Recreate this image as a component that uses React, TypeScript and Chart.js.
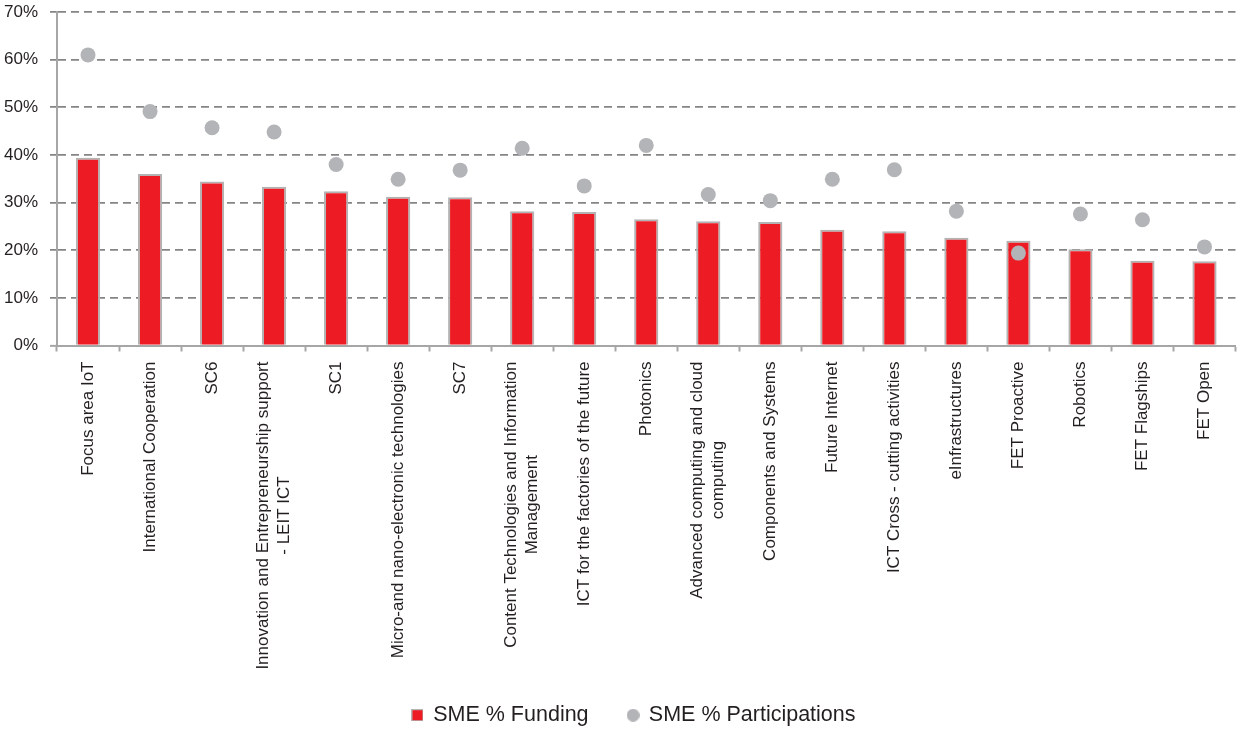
import React, { useEffect, useRef } from 'react';
import { Chart, registerables } from 'chart.js';

Chart.register(...registerables);

const categories: string[][] = [
  ['Focus area IoT'],
  ['International Cooperation'],
  ['SC6'],
  ['Innovation and Entrepreneurship support', '- LEIT ICT'],
  ['SC1'],
  ['Micro-and nano-electronic technologies'],
  ['SC7'],
  ['Content Technologies and Information', 'Management'],
  ['ICT for the factories of the future'],
  ['Photonics'],
  ['Advanced computing and cloud', 'computing'],
  ['Components and Systems'],
  ['Future Internet'],
  ['ICT Cross - cutting activities'],
  ['eInfrastructures'],
  ['FET Proactive'],
  ['Robotics'],
  ['FET Flagships'],
  ['FET Open'],
];

const smeFunding = [39.4, 36.0, 34.4, 33.3, 32.4, 31.2, 31.1, 28.2, 28.0, 26.5, 26.1, 25.9, 24.3, 24.0, 22.6, 22.0, 20.2, 17.8, 17.7];
const smeParticipations = [61.0, 49.1, 45.7, 44.8, 38.0, 34.9, 36.8, 41.4, 33.5, 42.0, 31.7, 30.4, 34.9, 36.9, 28.2, 19.4, 27.6, 26.4, 20.7];

const yMin = 0;
const yMax = 70;
const yStep = 10;

const seriesNames = ['SME % Funding', 'SME % Participations'];

const FONT = '"Liberation Sans", Arial, Helvetica, sans-serif';
const TEXT = '#231f20';
const RED = '#ed1c24';
const DOT = '#b3b4b7';
const BAR_BORDER = '#b3b3b3';
const AXIS = '#a6a6a6';
const GRID = '#858585';

function makeSquareIcon() {
  const c = document.createElement('canvas');
  c.width = 12;
  c.height = 12;
  const g = c.getContext('2d')!;
  g.fillStyle = BAR_BORDER;
  g.fillRect(0, 0, 12, 12);
  g.fillStyle = RED;
  g.fillRect(1, 1, 10, 10);
  return c;
}

function makeCircleIcon() {
  const c = document.createElement('canvas');
  c.width = 13;
  c.height = 13;
  const g = c.getContext('2d')!;
  g.fillStyle = DOT;
  g.beginPath();
  g.arc(6.5, 6.5, 6.5, 0, Math.PI * 2);
  g.fill();
  return c;
}

// Draws rotated category labels (multi-line labels centred on each other)
const xLabelPlugin = {
  id: 'xLabelsRotated',
  afterDraw(chart: any) {
    const xs = chart.scales.x;
    const ctx = chart.ctx as CanvasRenderingContext2D;
    ctx.save();
    ctx.font = `17px ${FONT}`;
    ctx.fillStyle = TEXT;
    ctx.textBaseline = 'middle';
    const lh = 21;
    categories.forEach((lines, i) => {
      const x = xs.getPixelForValue(i);
      const y = xs.top + 16;
      const W = Math.max(...lines.map((l) => ctx.measureText(l).width));
      ctx.save();
      ctx.translate(x, y);
      ctx.rotate(-Math.PI / 2);
      lines.forEach((l, k) => {
        const off = (k - (lines.length - 1) / 2) * lh;
        if (lines.length === 1) {
          ctx.textAlign = 'right';
          ctx.fillText(l, 0, off);
        } else {
          ctx.textAlign = 'center';
          ctx.fillText(l, -W / 2, off);
        }
      });
      ctx.restore();
    });
    ctx.restore();
  },
};

// Draws the y tick labels (not clipped to the narrow axis box)
const yLabelPlugin = {
  id: 'yLabelsOutside',
  afterDraw(chart: any) {
    const ys = chart.scales.y;
    const ctx = chart.ctx as CanvasRenderingContext2D;
    ctx.save();
    ctx.font = `17px ${FONT}`;
    ctx.fillStyle = TEXT;
    ctx.textAlign = 'right';
    ctx.textBaseline = 'middle';
    const xRight = chart.chartArea.left - 7 - 12;
    ys.ticks.forEach((t: any) => {
      ctx.fillText(`${t.value}%`, xRight, ys.getPixelForValue(t.value));
    });
    ctx.restore();
  },
};

export default function App() {
  const ref = useRef<HTMLCanvasElement | null>(null);

  useEffect(() => {
    if (!ref.current) return;
    const squareIcon = makeSquareIcon();
    const circleIcon = makeCircleIcon();
    const chart = new Chart(ref.current, {
      type: 'bar',
      data: {
        labels: categories.map((c) => c.join(' ')),
        datasets: [
          {
            type: 'bar',
            label: seriesNames[0],
            data: smeFunding,
            backgroundColor: RED,
            borderColor: BAR_BORDER,
            borderWidth: 2,
            categoryPercentage: 1,
            barPercentage: 0.39,
            order: 2,
          } as any,
          {
            type: 'line',
            label: seriesNames[1],
            data: smeParticipations,
            showLine: false,
            pointRadius: 7.5,
            pointHoverRadius: 7.5,
            pointBackgroundColor: DOT,
            pointBorderWidth: 0,
            borderColor: DOT,
            backgroundColor: DOT,
            order: 1,
          } as any,
        ],
      },
      options: {
        responsive: false,
        devicePixelRatio: 1,
        animation: false,
        layout: { padding: { top: 12, left: 25, right: 0, bottom: 0 } },
        plugins: {
          tooltip: { enabled: false },
          legend: {
            display: true,
            position: 'bottom',
            labels: {
              usePointStyle: true,
              boxWidth: 10,
              boxHeight: 10,
              padding: 39.5,
              color: TEXT,
              font: { family: FONT, size: 21.5 },
              sort: (a: any, b: any) => a.datasetIndex - b.datasetIndex,
              generateLabels: (ch: any) => {
                const items = (Chart.defaults.plugins.legend.labels as any).generateLabels(ch);
                return items.map((it: any) => ({
                  ...it,
                  pointStyle: it.datasetIndex === 0 ? squareIcon : circleIcon,
                }));
              },
            },
          },
        },
        scales: {
          x: {
            afterFit: (s: any) => {
              s.height = 319.5;
            },
            ticks: { display: false },
            grid: {
              offset: true,
              drawOnChartArea: false,
              drawTicks: true,
              tickLength: 6,
              tickColor: AXIS,
              tickWidth: 2,
            },
            border: { display: true, color: AXIS, width: 2 },
          },
          y: {
            min: yMin,
            max: yMax,
            afterFit: (s: any) => {
              s.width = 32;
            },
            ticks: {
              display: false,
              stepSize: yStep,
            },
            grid: {
              color: (c: any) => (c.tick && c.tick.value === 0 ? 'rgba(0,0,0,0)' : GRID),
              lineWidth: 1.75,
              drawTicks: true,
              tickLength: 7,
              tickColor: (c: any) => (c.tick && c.tick.value === 0 ? AXIS : GRID),
              tickWidth: (c: any) => (c.tick && c.tick.value === 0 ? 2 : 1.75),
            },
            border: { display: true, color: AXIS, width: 2, dash: [8, 5] },
          },
        },
      },
      plugins: [xLabelPlugin, yLabelPlugin],
    });
    return () => chart.destroy();
  }, []);

  return (
    <div
      style={{
        position: 'absolute',
        left: 0,
        top: 0,
        width: 1243,
        height: 731,
        overflow: 'hidden',
        background: '#ffffff',
      }}
    >
      <canvas ref={ref} width={1243} height={736} style={{ display: 'block' }} />
    </div>
  );
}
